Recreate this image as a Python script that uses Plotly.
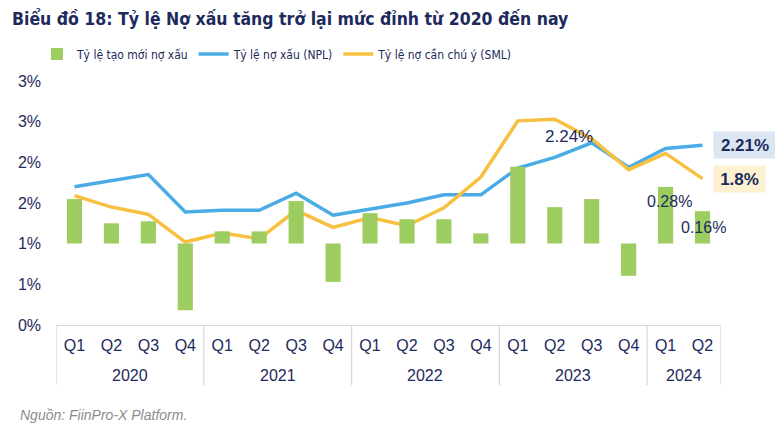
import plotly.graph_objects as go

years = ["2020"] * 4 + ["2021"] * 4 + ["2022"] * 4 + ["2023"] * 4 + ["2024"] * 2
quarters = ["Q1", "Q2", "Q3", "Q4"] * 4 + ["Q1", "Q2"]

new_npl = [0.22, 0.10, 0.11, -0.33, 0.06, 0.06, 0.21, -0.19, 0.15,
           0.12, 0.12, 0.05, 0.38, 0.18, 0.22, -0.16, 0.28, 0.16]
npl = [1.70, 1.78, 1.85, 1.39, 1.41, 1.41, 1.62, 1.35, 1.42,
       1.50, 1.60, 1.60, 1.93, 2.06, 2.24, 1.94, 2.17, 2.21]
sml = [1.59, 1.45, 1.36, 1.02, 1.13, 1.06, 1.41, 1.20, 1.32,
       1.22, 1.44, 1.82, 2.51, 2.53, 2.29, 1.91, 2.11, 1.80]

y_tickvals = [0, 0.5, 1.0, 1.5, 2.0, 2.5, 3.0]
y_ticktext = ["0%", "1%", "1%", "2%", "2%", "3%", "3%"]

names = ["Tỷ lệ tạo mới nợ xấu", "Tỷ lệ nợ xấu (NPL)", "Tỷ lệ nợ cần chú ý (SML)"]
title = "Biểu đồ 18: Tỷ lệ Nợ xấu tăng trở lại mức đỉnh từ 2020 đến nay"
source = "Nguồn: FiinPro-X Platform."

NAVY = "#1c2a5c"
GREEN = "#9dcd60"
BLUE = "#4aabe6"
YELLOW = "#f7c040"
GRID = "#d9d9d9"
NARROW = "DejaVu Sans Condensed, Liberation Sans Narrow, Liberation Sans"
ARIAL = "Liberation Sans, Arial, sans-serif"

# the page body has an 8px margin; the figure is sized so it fills the window
W, H = 775, 424

cats = [f"{q} {y}" for q, y in zip(quarters, years)]
n = len(cats)

fig = go.Figure()
fig.add_trace(go.Bar(x=cats, y=new_npl, name=names[0], marker_color=GREEN,
                     marker_line_width=0, width=0.41, yaxis="y2"))
fig.add_trace(go.Scatter(x=cats, y=npl, name=names[1], mode="lines",
                         line=dict(color=BLUE, width=3.5)))
fig.add_trace(go.Scatter(x=cats, y=sml, name=names[2], mode="lines",
                         line=dict(color=YELLOW, width=3.5)))

# year group labels and dividers (multi-level category axis)
groups = []
for i, yv in enumerate(years):
    if not groups or groups[-1][0] != yv:
        groups.append([yv, i, i])
    else:
        groups[-1][2] = i

shapes = []
annotations = []
div_bottom = -60 / 244
for yv, i0, i1 in groups:
    annotations.append(dict(x=(i0 + i1) / 2, y=-50 / 244, xref="x", yref="paper",
                            text=yv, showarrow=False, yanchor="middle",
                            font=dict(family=ARIAL, size=16, color=NAVY)))
    shapes.append(dict(type="line", xref="x", yref="paper", x0=i0 - 0.5, x1=i0 - 0.5,
                       y0=0, y1=div_bottom, line=dict(color=GRID, width=1.3)))
shapes.append(dict(type="line", xref="x", yref="paper", x0=n - 0.5, x1=n - 0.5,
                   y0=0, y1=div_bottom, line=dict(color=GRID, width=1.3)))

annotations += [
    dict(x=14, y=npl[14], xref="x", yref="y", text="2.24%", showarrow=False,
         xshift=-23, yshift=6, font=dict(family=ARIAL, size=17, color=NAVY)),
    dict(x=n - 1, y=npl[-1], xref="x", yref="y", text="<b>2.21%</b>", showarrow=False,
         xanchor="left", xshift=10.5, width=54, height=18, borderpad=4,
         bgcolor="#dce6f2", font=dict(family=ARIAL, size=17, color=NAVY)),
    dict(x=n - 1, y=sml[-1], xref="x", yref="y", text="<b>1.8%</b>", showarrow=False,
         xanchor="left", xshift=10.5, width=43, height=18, borderpad=4,
         bgcolor="#fdf1d2", font=dict(family=ARIAL, size=17, color=NAVY)),
    dict(x=n - 2, y=new_npl[-2], xref="x", yref="y2", text="0.28%", showarrow=False,
         xshift=4, yshift=-15, font=dict(family=ARIAL, size=16, color=NAVY)),
    dict(x=n - 1, y=new_npl[-1], xref="x", yref="y2", text="0.16%", showarrow=False,
         xshift=1, yshift=-16, font=dict(family=ARIAL, size=16, color=NAVY)),
    dict(x=-0.057, y=-0.37, xref="paper", yref="paper", text="<i>" + source + "</i>",
         showarrow=False, xanchor="left", yanchor="middle",
         font=dict(family=ARIAL, size=14, color="#8c8c8c")),
]

fig.update_layout(
    width=W, height=H,
    margin=dict(l=48, r=62, t=73, b=107, autoexpand=False),
    paper_bgcolor="white", plot_bgcolor="white",
    title=dict(text="<b>" + title + "</b>", x=4 / W, xanchor="left",
               y=1 - 11 / H, yanchor="middle", yref="container", xref="container",
               font=dict(family=NARROW, size=17.5, color=NAVY)),
    legend=dict(orientation="h", xref="container", yref="container",
                x=29 / W, xanchor="left", y=1 - 46 / H, yanchor="middle",
                font=dict(family=NARROW, size=12, color=NAVY), bgcolor="rgba(0,0,0,0)",
                traceorder="normal"),
    xaxis=dict(type="category", range=[-0.5, n - 0.5], tickvals=cats, ticktext=quarters,
               showgrid=False, showline=True, linecolor=GRID, linewidth=1.3,
               ticks="", ticklabelstandoff=6,
               tickfont=dict(family=ARIAL, size=16, color=NAVY)),
    yaxis=dict(range=[0, 3], tickvals=y_tickvals, ticktext=y_ticktext, showgrid=False,
               zeroline=False, showline=False, ticklabelstandoff=14,
               tickfont=dict(family=ARIAL, size=16, color=NAVY)),
    yaxis2=dict(range=[-0.4035, 0.8045], overlaying="y", visible=False,
                showgrid=False, zeroline=False),
    annotations=annotations,
    shapes=shapes,
)

fig.write_html("out.html")
